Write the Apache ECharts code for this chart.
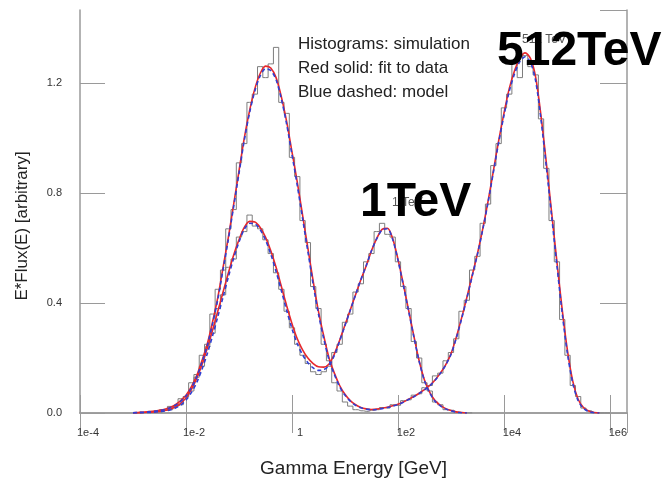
<!DOCTYPE html>
<html>
<head>
<meta charset="utf-8">
<script src="https://cdn.jsdelivr.net/npm/echarts@6/dist/echarts.min.js"></script>
<style>
html, body { margin: 0; padding: 0; background: #fff; }
#chart { width: 665px; height: 479px; }
</style>
</head>
<body>
<div id="chart"></div>
<script>
// all series share one grid: 0.1 decade steps, first point at 1e-3 GeV
const binStart = -3.0;
const binStep = 0.1;

const xTickLabels = ['1e-4', '1e-2', '1', '1e2', '1e4', '1e6'];
const yTickLabels = ['0.0', '0.4', '0.8', '1.2'];

// 1 TeV primary
const histLow = [
    0.000, 0.000, 0.002, 0.003, 0.005, 0.004, 0.011, 0.012, 0.025, 0.030,
    0.060, 0.080, 0.140, 0.170, 0.250, 0.290, 0.380, 0.430, 0.530, 0.560,
    0.640, 0.660, 0.720, 0.680, 0.670, 0.630, 0.580, 0.510, 0.450, 0.370,
    0.310, 0.250, 0.210, 0.180, 0.150, 0.140, 0.150, 0.170, 0.220, 0.250,
    0.330, 0.360, 0.440, 0.470, 0.550, 0.580, 0.660, 0.690, 0.650, 0.640,
    0.550, 0.460, 0.380, 0.260, 0.200, 0.110, 0.080, 0.040, 0.030, 0.012,
    0.010, 0.003, 0.002, 0.000, 0.000
];
const fitLow = [
    0.000, 0.001, 0.002, 0.003, 0.004, 0.006, 0.009, 0.014, 0.022, 0.035,
    0.055, 0.085, 0.125, 0.175, 0.235, 0.300, 0.370, 0.440, 0.510, 0.575,
    0.630, 0.675, 0.697, 0.695, 0.675, 0.640, 0.590, 0.530, 0.460, 0.390,
    0.325, 0.270, 0.230, 0.200, 0.180, 0.168, 0.167, 0.178, 0.215, 0.265,
    0.320, 0.375, 0.430, 0.485, 0.535, 0.590, 0.635, 0.668, 0.672, 0.635,
    0.560, 0.470, 0.375, 0.280, 0.190, 0.120, 0.075, 0.045, 0.028, 0.016,
    0.009, 0.004, 0.002, 0.000
];
const modelLow = [
    0.000, 0.001, 0.001, 0.002, 0.003, 0.005, 0.007, 0.011, 0.018, 0.029,
    0.047, 0.074, 0.110, 0.158, 0.215, 0.280, 0.350, 0.422, 0.495, 0.563,
    0.622, 0.668, 0.690, 0.688, 0.667, 0.630, 0.578, 0.515, 0.445, 0.373,
    0.307, 0.252, 0.212, 0.183, 0.164, 0.155, 0.158, 0.172, 0.210, 0.262,
    0.318, 0.374, 0.430, 0.485, 0.535, 0.590, 0.634, 0.666, 0.670, 0.632,
    0.556, 0.466, 0.372, 0.277, 0.188, 0.118, 0.073, 0.043, 0.026, 0.015,
    0.008, 0.003, 0.001, 0.000
];

// 512 TeV primary
const histHigh = [
    0.000, 0.002, 0.002, 0.006, 0.005, 0.012, 0.010, 0.024, 0.028, 0.052,
    0.060, 0.110, 0.130, 0.210, 0.240, 0.360, 0.450, 0.520, 0.670, 0.740,
    0.910, 0.980, 1.130, 1.160, 1.260, 1.220, 1.270, 1.330, 1.130, 1.090,
    0.930, 0.860, 0.700, 0.620, 0.460, 0.380, 0.250, 0.190, 0.110, 0.080,
    0.040, 0.025, 0.012, 0.008, 0.006, 0.010, 0.012, 0.020, 0.018, 0.030,
    0.028, 0.045, 0.048, 0.065, 0.070, 0.092, 0.100, 0.135, 0.145, 0.190,
    0.220, 0.270, 0.370, 0.410, 0.520, 0.570, 0.690, 0.760, 0.900, 0.980,
    1.110, 1.160, 1.270, 1.220, 1.300, 1.260, 1.230, 1.070, 0.890, 0.700,
    0.550, 0.340, 0.210, 0.100, 0.060, 0.018, 0.008, 0.002, 0.000, 0.000,
    0.000
];
const fitHigh = [
    0.001, 0.002, 0.003, 0.005, 0.007, 0.010, 0.014, 0.020, 0.030, 0.045,
    0.065, 0.095, 0.135, 0.190, 0.250, 0.330, 0.420, 0.530, 0.640, 0.760,
    0.880, 1.000, 1.100, 1.180, 1.235, 1.262, 1.255, 1.220, 1.150, 1.060,
    0.950, 0.840, 0.720, 0.600, 0.480, 0.370, 0.280, 0.200, 0.145, 0.100,
    0.068, 0.045, 0.030, 0.020, 0.015, 0.013, 0.014, 0.017, 0.021, 0.026,
    0.032, 0.040, 0.050, 0.060, 0.072, 0.085, 0.100, 0.120, 0.145, 0.175,
    0.215, 0.275, 0.345, 0.420, 0.500, 0.580, 0.670, 0.770, 0.880, 0.990,
    1.090, 1.180, 1.245, 1.290, 1.310, 1.290, 1.220, 1.080, 0.910, 0.730,
    0.550, 0.375, 0.225, 0.115, 0.050, 0.020, 0.007, 0.002, 0.000
];
const modelHigh = [
    0.001, 0.002, 0.003, 0.004, 0.006, 0.009, 0.013, 0.019, 0.028, 0.042,
    0.062, 0.091, 0.130, 0.184, 0.244, 0.323, 0.413, 0.522, 0.632, 0.752,
    0.872, 0.992, 1.092, 1.172, 1.226, 1.252, 1.246, 1.212, 1.142, 1.050,
    0.940, 0.828, 0.708, 0.588, 0.468, 0.360, 0.270, 0.193, 0.140, 0.096,
    0.065, 0.043, 0.028, 0.019, 0.014, 0.012, 0.013, 0.016, 0.020, 0.025,
    0.031, 0.039, 0.049, 0.059, 0.071, 0.084, 0.099, 0.119, 0.144, 0.174,
    0.213, 0.272, 0.342, 0.417, 0.497, 0.577, 0.667, 0.766, 0.875, 0.984,
    1.082, 1.170, 1.234, 1.278, 1.296, 1.276, 1.206, 1.066, 0.896, 0.716,
    0.536, 0.362, 0.214, 0.107, 0.045, 0.017, 0.005, 0.001, 0.000
];

function toPoints(values) {
    return values.map(function(v, i) {
        return [Math.pow(10, binStart + i * binStep), v];
    });
}

const chart = echarts.init(document.getElementById('chart'), null, { renderer: 'canvas' });

const frameColor = '#9a9a9a';
const font = '"Liberation Sans", Arial, sans-serif';

const xCommon = {
    type: 'log',
    logBase: 10,
    min: 1e-4,
    max: 2.1e6,
    interval: 2,
    splitLine: { show: false },
    minorTick: { show: false },
    axisLine: { lineStyle: { color: frameColor, width: 1.5 } }
};
const yCommon = {
    type: 'value',
    min: 0,
    max: 1.466,
    interval: 0.4,
    splitLine: { show: false },
    axisLine: { show: true, lineStyle: { color: frameColor, width: 1.5 } }
};

function histSeries(values) {
    return {
        type: 'line',
        step: 'middle',
        data: toPoints(values),
        showSymbol: false,
        lineStyle: { color: '#7d7d7d', width: 1 },
        z: 1
    };
}
function fitSeries(values) {
    return {
        type: 'line',
        smooth: 0.3,
        data: toPoints(values),
        showSymbol: false,
        lineStyle: { color: '#e8282c', width: 1.6 },
        z: 2
    };
}
function modelSeries(values) {
    return {
        type: 'line',
        smooth: 0.3,
        data: toPoints(values),
        showSymbol: false,
        lineStyle: { color: '#2f3fd2', width: 1.6, type: [4, 3] },
        z: 3
    };
}

const option = {
    animation: false,
    backgroundColor: '#fff',
    grid: { left: 80, right: 38, top: 10, bottom: 66, containLabel: false, outerBoundsMode: 'none' },
    xAxis: [
        Object.assign({}, xCommon, {
            position: 'bottom',
            name: 'Gamma Energy [GeV]',
            nameLocation: 'middle',
            nameGap: 46,
            nameTextStyle: { fontFamily: font, fontSize: 19, color: '#222' },
            axisTick: { inside: true, length: 18, lineStyle: { color: frameColor } },
            axisLabel: {
                fontFamily: font,
                fontSize: 11,
                color: '#333',
                margin: 14,
                padding: [0, 0, 0, 16],
                showMaxLabel: false,
                formatter: function(v) {
                    const e = Math.round(Math.log10(v));
                    if (e % 2 !== 0) return '';
                    return xTickLabels[(e + 4) / 2] || '';
                }
            }
        }),
        Object.assign({}, xCommon, {
            position: 'top',
            axisTick: { inside: true, length: 20, lineStyle: { color: frameColor } },
            axisLabel: { show: false }
        })
    ],
    yAxis: [
        Object.assign({}, yCommon, {
            position: 'left',
            axisTick: { inside: true, length: 25, lineStyle: { color: frameColor } },
            axisLabel: {
                fontFamily: font,
                fontSize: 11,
                color: '#333',
                margin: 18,
                showMaxLabel: false,
                formatter: function(v) {
                    return yTickLabels[Math.round(v / 0.4)] || '';
                }
            }
        }),
        Object.assign({}, yCommon, {
            position: 'right',
            axisTick: { inside: true, length: 27, lineStyle: { color: frameColor } },
            axisLabel: { show: false }
        })
    ],
    graphic: [
        {
            type: 'text', x: 22, y: 226, rotation: Math.PI / 2,
            style: { text: 'E*Flux(E) [arbitrary]', font: '17px ' + font, fill: '#222', align: 'center', verticalAlign: 'middle' }
        },
        { type: 'text', x: 298, y: 44, style: { text: 'Histograms: simulation', font: '17px ' + font, fill: '#222', verticalAlign: 'middle' } },
        { type: 'text', x: 298, y: 68, style: { text: 'Red solid: fit to data', font: '17px ' + font, fill: '#222', verticalAlign: 'middle' } },
        { type: 'text', x: 298, y: 92, style: { text: 'Blue dashed: model', font: '17px ' + font, fill: '#222', verticalAlign: 'middle' } },
        // small in-plot labels from the original figure
        { type: 'text', x: 522, y: 40, z: 5, style: { text: '512 TeV', font: '12px ' + font, fill: '#555', verticalAlign: 'middle' } },
        { type: 'text', x: 392, y: 203, z: 5, style: { text: '1 TeV', font: '12px ' + font, fill: '#555', verticalAlign: 'middle' } },
        // big overlaid labels
        { type: 'text', x: 497, y: 52, z: 10, style: { text: '512TeV', font: 'bold 48px ' + font, fill: '#000', verticalAlign: 'middle' } },
        { type: 'text', x: 360, y: 203, z: 10, style: { text: '1TeV', font: 'bold 48px ' + font, fill: '#000', verticalAlign: 'middle' } }
    ],
    series: [
        histSeries(histLow),
        histSeries(histHigh),
        fitSeries(fitLow),
        fitSeries(fitHigh),
        modelSeries(modelLow),
        modelSeries(modelHigh)
    ]
};

chart.setOption(option);
</script>
</body>
</html>
